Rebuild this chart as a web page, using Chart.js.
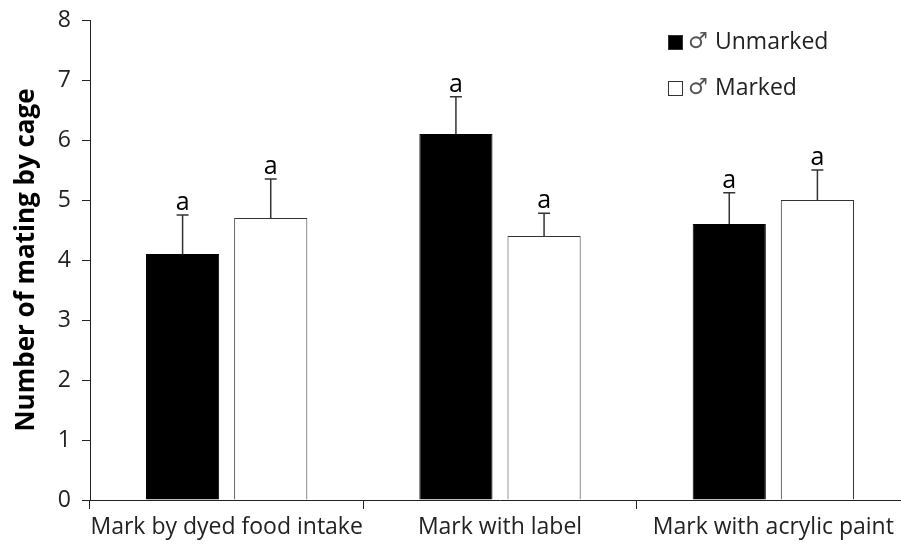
<!DOCTYPE html>
<html>
<head>
<meta charset="utf-8">
<script src="https://cdn.jsdelivr.net/npm/chart.js@4"></script>
<style>
  body { margin: 0; background: #fff; overflow: hidden; }
  #wrap { width: 920px; height: 548px; }
</style>
</head>
<body>
<div id="wrap"><canvas id="myChart" width="920" height="548"></canvas></div>
<script>
// data
const categories = ['Mark by dyed food intake', 'Mark with label', 'Mark with acrylic paint'];
const unmarked = [4.1, 6.1, 4.6];
const marked = [4.7, 4.4, 5.0];
const unmarkedErr = [0.65, 0.62, 0.52];
const markedErr = [0.65, 0.38, 0.5];
const unmarkedLetters = ['a', 'a', 'a'];
const markedLetters = ['a', 'a', 'a'];
const yTicks = [0, 1, 2, 3, 4, 5, 6, 7, 8];

const FONT = '"Open Sans", "DejaVu Sans", sans-serif';

// error bars (up only) + significance letters
const errorBars = {
    id: 'errorBars',
    afterDatasetsDraw(chart) {
        const ctx = chart.ctx;
        const y = chart.scales.y;
        chart.data.datasets.forEach((ds, i) => {
            const meta = chart.getDatasetMeta(i);
            meta.data.forEach((bar, j) => {
                const top = y.getPixelForValue(ds.data[j] + ds.err[j]);
                ctx.save();
                ctx.strokeStyle = '#333';
                ctx.lineWidth = 1.5;
                ctx.beginPath();
                ctx.moveTo(bar.x, bar.y);
                ctx.lineTo(bar.x, top);
                ctx.moveTo(bar.x - 6, top);
                ctx.lineTo(bar.x + 6, top);
                ctx.stroke();
                ctx.fillStyle = '#000';
                ctx.font = '25px ' + FONT;
                ctx.textAlign = 'center';
                ctx.textBaseline = 'alphabetic';
                ctx.fillText(ds.letters[j], bar.x, top - 5);
                ctx.restore();
            });
        });
    }
};

// legend in the upper right like the original
const boxLegend = {
    id: 'boxLegend',
    afterDraw(chart) {
        const ctx = chart.ctx;
        const rows = [42, 88];
        chart.data.datasets.forEach((ds, i) => {
            const cy = rows[i];
            ctx.save();
            ctx.fillStyle = ds.backgroundColor;
            ctx.fillRect(668, cy - 7, 15, 15);
            ctx.strokeStyle = '#333';
            ctx.lineWidth = 1;
            ctx.strokeRect(668.5, cy - 6.5, 14, 14);
            ctx.fillStyle = '#555';
            ctx.font = '22px ' + FONT;
            ctx.textAlign = 'left';
            ctx.textBaseline = 'middle';
            ctx.fillText('\u2642', 688, cy);
            ctx.fillStyle = '#222';
            ctx.font = '23px ' + FONT;
            ctx.fillText(ds.label, 715, cy);
            ctx.restore();
        });
    }
};

const ctx = document.getElementById('myChart').getContext('2d');
const chart = new Chart(ctx, {
    type: 'bar',
    data: {
        labels: categories,
        datasets: [{
            label: 'Unmarked',
            data: unmarked,
            err: unmarkedErr,
            letters: unmarkedLetters,
            backgroundColor: '#000',
            borderColor: '#000',
            borderWidth: 1
        }, {
            label: 'Marked',
            data: marked,
            err: markedErr,
            letters: markedLetters,
            backgroundColor: '#fff',
            borderColor: '#333',
            borderWidth: 1
        }]
    },
    options: {
        responsive: false,
        animation: false,
        barPercentage: 0.83,
        categoryPercentage: 0.645,
        layout: { padding: { top: 20, right: 10, left: 0, bottom: 0 } },
        plugins: {
            legend: { display: false },
            tooltip: { enabled: false }
        },
        scales: {
            x: {
                afterFit(scale) { scale.height = 48; },
                grid: { offset: true, drawOnChartArea: false, tickLength: 9, color: '#222' },
                border: { color: '#222', width: 1 },
                ticks: { color: '#222', font: { family: FONT, size: 23 }, padding: 5, maxRotation: 0, autoSkip: false }
            },
            y: {
                min: 0,
                max: 8,
                afterFit(scale) {
                    scale.width = 90;
                    scale.paddingTop = 0;
                    scale.paddingBottom = 0;
                },
                afterBuildTicks(scale) { scale.ticks = yTicks.map(v => ({ value: v })); },
                grid: { drawOnChartArea: false, tickLength: 8, color: '#222' },
                border: { color: '#222', width: 1 },
                ticks: { color: '#222', font: { family: FONT, size: 23 }, padding: 11 },
                title: {
                    display: true,
                    text: 'Number of mating by cage',
                    color: '#000',
                    font: { family: FONT, size: 26, weight: 'bold' },
                    padding: { top: 11, bottom: 0 }
                }
            }
        }
    },
    plugins: [errorBars, boxLegend]
});
</script>
</body>
</html>
